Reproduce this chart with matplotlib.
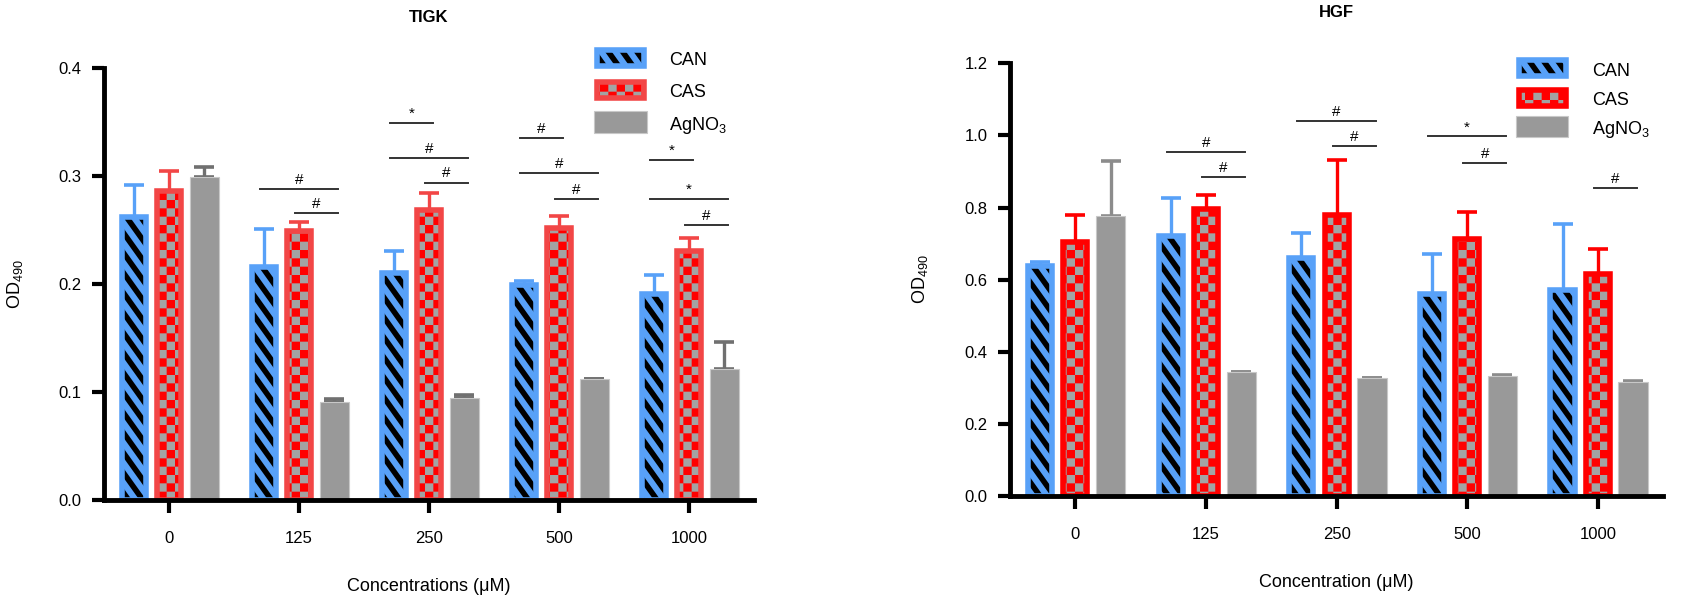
import warnings
import numpy as np
import matplotlib
matplotlib.use('Agg')
import matplotlib.pyplot as plt
from matplotlib import hatch as mhatch
from matplotlib.path import Path
from matplotlib.patches import Rectangle
from matplotlib.ticker import FormatStrFormatter

warnings.filterwarnings('ignore', category=matplotlib.MatplotlibDeprecationWarning)

HATCH_LW = 4.0  # points
plt.rcParams['font.family'] = ['Liberation Sans', 'DejaVu Sans']
plt.rcParams['mathtext.fontset'] = 'custom'
plt.rcParams['mathtext.rm'] = 'Liberation Sans'
plt.rcParams['mathtext.it'] = 'Liberation Sans:italic'
plt.rcParams['mathtext.bf'] = 'Liberation Sans:bold'
plt.rcParams['hatch.linewidth'] = HATCH_LW

# ---- data ----
concentrations = ['0', '125', '250', '500', '1000']
labels = ['CAN', 'CAS', 'AgNO$_3$']

tigk_can = [0.262, 0.216, 0.210, 0.1995, 0.191]
tigk_can_err = [0.030, 0.035, 0.021, 0.003, 0.017]
tigk_cas = [0.286, 0.249, 0.269, 0.252, 0.231]
tigk_cas_err = [0.019, 0.008, 0.015, 0.011, 0.012]
tigk_ag = [0.299, 0.091, 0.0947, 0.1117, 0.121]
tigk_ag_err = [0.009, 0.003, 0.003, 0.0005, 0.025]

hgf_can = [0.638, 0.721, 0.660, 0.561, 0.571]
hgf_can_err = [0.010, 0.106, 0.068, 0.109, 0.182]
hgf_cas = [0.703, 0.795, 0.780, 0.712, 0.615]
hgf_cas_err = [0.075, 0.040, 0.151, 0.076, 0.069]
hgf_ag = [0.776, 0.343, 0.326, 0.334, 0.316]
hgf_ag_err = [0.153, 0.001, 0.002, 0.001, 0.002]

# significance brackets: group index, (bar a, bar b), height, symbol
tigk_sig_group = [1, 1, 2, 2, 2, 3, 3, 3, 4, 4, 4]
tigk_sig_pair = [(0, 2), (1, 2), (0, 1), (0, 2), (1, 2), (0, 1), (0, 2), (1, 2), (0, 1), (0, 2), (1, 2)]
tigk_sig_y = [0.288, 0.266, 0.349, 0.317, 0.294, 0.335, 0.303, 0.279, 0.315, 0.279, 0.255]
tigk_sig_mark = ['#', '#', '*', '#', '#', '#', '#', '#', '*', '*', '#']

hgf_sig_group = [1, 1, 2, 2, 3, 3, 4]
hgf_sig_pair = [(0, 2), (1, 2), (0, 2), (1, 2), (0, 2), (1, 2), (1, 2)]
hgf_sig_y = [0.953, 0.885, 1.041, 0.970, 0.997, 0.924, 0.854]
hgf_sig_mark = ['#', '#', '#', '#', '*', '#', '#']


# ---- GraphPad-like fill patterns as extra hatch types ----
class StripeHatch(mhatch.HatchPatternBase):
    # steep "\" stripes, 'k' in the hatch string
    def __init__(self, hatch, density):
        self.num_lines = hatch.count('k') * 7
        self.num_vertices = (2 * self.num_lines + 1) * 2 if self.num_lines else 0

    def set_vertices_and_codes(self, vertices, codes):
        n = self.num_lines
        steps = np.arange(-n, n + 1) / n
        vertices[0::2, 0] = steps
        vertices[0::2, 1] = 1.0
        vertices[1::2, 0] = steps + 5 / n
        vertices[1::2, 1] = 0.0
        codes[0::2] = Path.MOVETO
        codes[1::2] = Path.LINETO


class CheckerHatch(mhatch.HatchPatternBase):
    # filled checkerboard, 'c' in the hatch string
    def __init__(self, hatch, density):
        self.num_cells = hatch.count('c') * 12
        n = self.num_cells
        self.num_vertices = (n * n // 2) * 5 if n else 0

    def set_vertices_and_codes(self, vertices, codes):
        n = self.num_cells
        side = 1.0 / n
        inset = HATCH_LW / 72 / 2  # the hatch stroke grows each square
        s = side - 2 * inset
        k = 0
        for row in range(n):
            for col in range(row % 2, n, 2):
                x0, y0 = col * side + inset, row * side + inset
                vertices[k:k + 5] = [(x0, y0), (x0 + s, y0), (x0 + s, y0 + s), (x0, y0 + s), (x0, y0)]
                codes[k:k + 5] = [Path.MOVETO, Path.LINETO, Path.LINETO, Path.LINETO, Path.CLOSEPOLY]
                k += 5


mhatch._hatch_types.extend([StripeHatch, CheckerHatch])

BLUE = '#58A1F8'
GRAY = '#999999'
offsets = [-0.27, 0.0, 0.27]
x = np.arange(len(concentrations))


def draw_panel(ax, title, xlabel, vals, errs, styles, err_colors, ymax, ystep,
               sig_group, sig_pair, sig_y, sig_mark, leg_x, leg_y, leg_tx):
    # styles: (face, pattern colour, pattern, border) per series, pattern None = plain
    for i in range(3):
        xs = x + offsets[i]
        face, pcol, pattern, border = styles[i]
        ax.errorbar(xs, vals[i], yerr=[np.zeros(len(x)), errs[i]], fmt='none',
                    ecolor=err_colors[i], elinewidth=2.4, capsize=7, capthick=2.6, zorder=1)
        if pattern:
            ax.bar(xs, vals[i], width=0.185, color=face, edgecolor=pcol, linewidth=0,
                   hatch=pattern, zorder=2)
            ax.bar(xs, vals[i], width=0.185, fill=False, edgecolor=border, linewidth=4, zorder=3)
        else:
            ax.bar(xs, vals[i], width=0.225, color=face, edgecolor='#c8c8c8', linewidth=0.8, zorder=2)

    # significance lines
    for g, (a, b), yy, m in zip(sig_group, sig_pair, sig_y, sig_mark):
        x0, x1 = g + offsets[a] - 0.03, g + offsets[b] + 0.03
        ax.plot([x0, x1], [yy, yy], color='#333333', lw=1.4, zorder=4, clip_on=False)
        ax.annotate(m, ((x0 + x1) / 2, yy), xytext=(0, 1.5), textcoords='offset points',
                    ha='center', va='bottom', fontsize=11, annotation_clip=False)

    # legend drawn by hand so it can sit above the axis
    h = 0.037
    for i in range(3):
        face, pcol, pattern, border = styles[i]
        yc = leg_y[i]
        if pattern:
            ax.add_patch(Rectangle((leg_x[0], yc - h / 2), leg_x[1] - leg_x[0], h, transform=ax.transAxes,
                                   facecolor=face, edgecolor=pcol, linewidth=0, hatch=pattern, clip_on=False))
            ax.add_patch(Rectangle((leg_x[0], yc - h / 2), leg_x[1] - leg_x[0], h, transform=ax.transAxes,
                                   fill=False, edgecolor=border, linewidth=4, clip_on=False))
        else:
            ax.add_patch(Rectangle((leg_x[0] - 0.004, yc - h / 2 - 0.006), leg_x[1] - leg_x[0] + 0.008, h + 0.012,
                                   transform=ax.transAxes, facecolor=face, edgecolor='#c8c8c8',
                                   linewidth=0.8, clip_on=False))
        ax.text(leg_tx, yc - 0.007, labels[i], transform=ax.transAxes, fontsize=13,
                ha='left', va='center')

    ax.set_xlim(-0.5, 4.5)
    ax.set_ylim(0, ymax)
    ax.set_yticks(np.arange(0, ymax + 1e-9, ystep))
    ax.yaxis.set_major_formatter(FormatStrFormatter('%.1f'))
    ax.set_xticks(x, concentrations)
    for s in ['top', 'right']:
        ax.spines[s].set_visible(False)
    for s in ['left', 'bottom']:
        ax.spines[s].set_linewidth(3.5)
        ax.spines[s].set_zorder(5)
    ax.tick_params(width=3, length=9, labelsize=12)
    ax.tick_params(axis='x', pad=13.5)
    ax.tick_params(axis='y', pad=7)

    ax.set_title(title, fontsize=12, fontweight='bold', pad=33)
    ax.set_xlabel(xlabel, fontsize=13)
    ax.xaxis.set_label_coords(0.5, -0.18)
    ax.set_ylabel('OD$_{490}$', fontsize=13)
    ax.yaxis.set_label_coords(-0.122, 0.5)


fig = plt.figure(figsize=(16.84, 6.02), dpi=100)
ax1 = fig.add_axes([0.0618, 0.1694, 0.3860, 0.7176])
ax2 = fig.add_axes([0.5998, 0.1761, 0.3878, 0.7188])

draw_panel(ax1, 'TIGK', 'Concentrations (μM)',
           [tigk_can, tigk_cas, tigk_ag], [tigk_can_err, tigk_cas_err, tigk_ag_err],
           [(BLUE, 'black', 'k', BLUE), ('#FF0000', '#A3A3A3', 'c', '#F24646'), (GRAY, None, None, None)],
           [BLUE, '#F24646', '#707070'], 0.4, 0.1,
           tigk_sig_group, tigk_sig_pair, tigk_sig_y, tigk_sig_mark,
           (0.758, 0.831), (1.024, 0.950, 0.875), 0.869)

draw_panel(ax2, 'HGF', 'Concentration (μM)',
           [hgf_can, hgf_cas, hgf_ag], [hgf_can_err, hgf_cas_err, hgf_ag_err],
           [(BLUE, 'black', 'k', BLUE), ('#FF0000', '#A3A3A3', 'c', '#FF0000'), (GRAY, None, None, None)],
           [BLUE, '#FF0000', '#8C8C8C'], 1.2, 0.2,
           hgf_sig_group, hgf_sig_pair, hgf_sig_y, hgf_sig_mark,
           (0.779, 0.851), (0.989, 0.920, 0.853), 0.891)

fig.savefig('out.png', dpi=100)
